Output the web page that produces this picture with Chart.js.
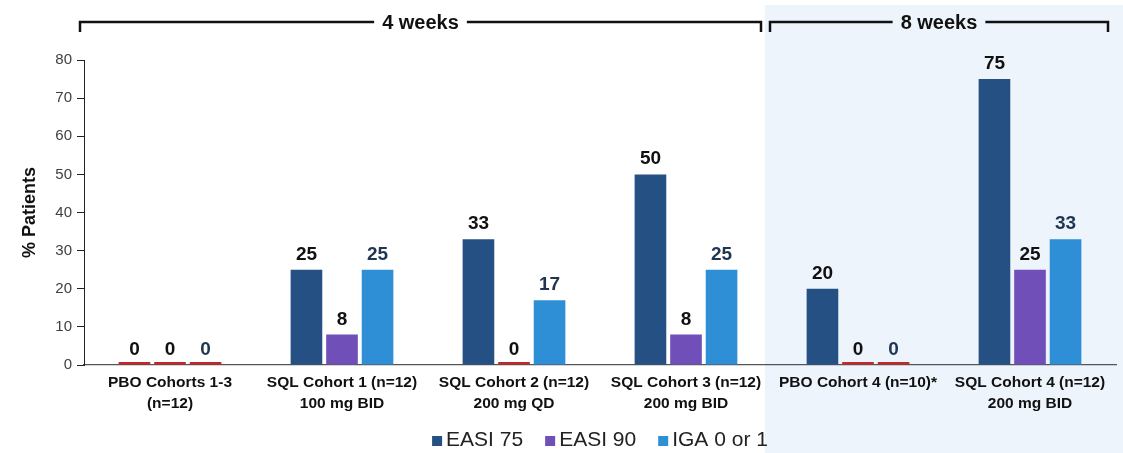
<!DOCTYPE html>
<html>
<head>
<meta charset="utf-8">
<script src="https://cdn.jsdelivr.net/npm/chart.js@4.4.1/dist/chart.umd.min.js"></script>
<style>
  html, body { margin: 0; padding: 0; background: #ffffff; }
  #wrap { width: 1123px; height: 453px; position: relative; }
</style>
</head>
<body>
<div id="wrap"><canvas id="c" width="1123" height="453"></canvas></div>
<script>
// Cohort categories (two-line axis labels)
const categories = [
  ['PBO Cohorts 1-3', '(n=12)'],
  ['SQL Cohort 1 (n=12)', '100 mg BID'],
  ['SQL Cohort 2 (n=12)', '200 mg QD'],
  ['SQL Cohort 3 (n=12)', '200 mg BID'],
  ['PBO Cohort 4 (n=10)*', ''],
  ['SQL Cohort 4 (n=12)', '200 mg BID']
];

// % of patients reaching each endpoint
const easi75 = [0, 25, 33, 50, 20, 75];
const easi90 = [0, 8, 0, 8, 0, 25];
const iga01  = [0, 25, 17, 25, 0, 33];

const seriesNames = ['EASI 75', 'EASI 90', 'IGA 0 or 1'];
const yTicks = [0, 10, 20, 30, 40, 50, 60, 70, 80];

// Treatment-period groupings drawn above the plot
const periods = [
  { label: '4 weeks', from: 0, to: 3 },
  { label: '8 weeks', from: 4, to: 5 }
];

const COL_75 = '#245084';
const COL_90 = '#7050b8';
const COL_IGA = '#2f8fd6';
const COL_ZERO = '#c0282d';
const FONT = "'Liberation Sans', Arial, sans-serif";

// Zero results are shown as a thin red stub
const barColors = (vals, col) => vals.map(v => v === 0 ? COL_ZERO : col);

// Light panel behind the 8-week cohorts
const periodShade = {
  id: 'periodShade',
  beforeDraw(chart) {
    const { ctx, scales: { x } } = chart;
    const split = (x.getPixelForValue(3) + x.getPixelForValue(4)) / 2 - 7;
    ctx.save();
    ctx.fillStyle = '#edf4fb';
    ctx.fillRect(split, 5, chart.width - split, chart.height - 5);
    ctx.restore();
  }
};

// Brackets with period titles
const periodBrackets = {
  id: 'periodBrackets',
  afterDraw(chart) {
    const { ctx, chartArea, scales: { x } } = chart;
    const y = 22, drop = 10;
    ctx.save();
    ctx.font = 'bold 20px ' + FONT;
    ctx.textAlign = 'center';
    ctx.textBaseline = 'middle';
    ctx.strokeStyle = '#111';
    ctx.fillStyle = '#111';
    ctx.lineWidth = 2.5;
    const mid = (x.getPixelForValue(3) + x.getPixelForValue(4)) / 2;
    periods.forEach((p, i) => {
      const x0 = i === 0 ? chartArea.left - 4 : mid - 2;
      const x1 = i === 0 ? mid - 11 : chartArea.right - 8;
      const cx = (x0 + x1) / 2;
      const tw = ctx.measureText(p.label).width;
      ctx.beginPath();
      ctx.moveTo(x0, y + drop);
      ctx.lineTo(x0, y);
      ctx.lineTo(cx - tw / 2 - 8, y);
      ctx.moveTo(cx + tw / 2 + 8, y);
      ctx.lineTo(x1, y);
      ctx.lineTo(x1, y + drop);
      ctx.stroke();
      ctx.fillText(p.label, cx, y + 1);
    });
    ctx.restore();
  }
};

// Value labels above each bar
const valueLabels = {
  id: 'valueLabels',
  afterDatasetsDraw(chart) {
    const { ctx, scales: { y } } = chart;
    ctx.save();
    ctx.font = 'bold 19px ' + FONT;
    ctx.textAlign = 'center';
    ctx.textBaseline = 'alphabetic';
    chart.data.datasets.forEach((ds, di) => {
      const meta = chart.getDatasetMeta(di);
      ctx.fillStyle = di === 2 ? '#1f3550' : '#111111';
      meta.data.forEach((bar, i) => {
        const v = ds.data[i];
        ctx.fillText(String(v), bar.x, y.getPixelForValue(v) - 10);
      });
    });
    ctx.restore();
  }
};

// Series key below the axis labels
const seriesKey = {
  id: 'seriesKey',
  afterDraw(chart) {
    const { ctx, chartArea } = chart;
    const cols = [COL_75, COL_90, COL_IGA];
    const box = 10, boxGap = 4, itemGap = 22, cy = 440;
    ctx.save();
    ctx.font = '21px ' + FONT;
    ctx.textBaseline = 'middle';
    ctx.textAlign = 'left';
    const items = chart.data.datasets.map((ds, i) => ({
      text: ds.label, color: cols[i], w: box + boxGap + ctx.measureText(ds.label).width
    }));
    const total = items.reduce((s, it) => s + it.w, 0) + itemGap * (items.length - 1);
    let x = (chartArea.left + chartArea.right) / 2 - total / 2;
    items.forEach(it => {
      ctx.fillStyle = it.color;
      ctx.fillRect(x, cy - box / 2 + 1, box, box);
      ctx.fillStyle = '#222';
      ctx.fillText(it.text, x + box + boxGap, cy);
      x += it.w + itemGap;
    });
    ctx.restore();
  }
};

new Chart(document.getElementById('c'), {
  type: 'bar',
  data: {
    labels: categories,
    datasets: [
      { label: seriesNames[0], data: easi75, backgroundColor: barColors(easi75, COL_75) },
      { label: seriesNames[1], data: easi90, backgroundColor: barColors(easi90, COL_90) },
      { label: seriesNames[2], data: iga01,  backgroundColor: barColors(iga01, COL_IGA) }
    ]
  },
  plugins: [periodShade, valueLabels, periodBrackets, seriesKey],
  options: {
    responsive: false,
    animation: false,
    devicePixelRatio: 1,
    layout: { padding: { top: 60, right: 7, bottom: 28, left: 0 } },
    datasets: {
      bar: { categoryPercentage: 0.62, barPercentage: 0.89, minBarLength: 3 }
    },
    scales: {
      x: {
        grid: { display: false, drawTicks: false },
        border: { display: true, color: '#555', width: 1.2 },
        ticks: {
          color: '#111',
          font: { family: FONT, size: 15.5, weight: 'bold', lineHeight: 1.3 },
          padding: 8,
          maxRotation: 0,
          autoSkip: false
        },
        afterFit(s) { s.height = 60; }
      },
      y: {
        min: 0,
        max: 80,
        afterBuildTicks(s) { s.ticks = yTicks.map(v => ({ value: v })); },
        grid: { drawOnChartArea: false, drawTicks: true, tickLength: 7, color: '#222', lineWidth: 1 },
        border: { display: true, color: '#222', width: 1 },
        ticks: {
          color: '#404040',
          font: { family: FONT, size: 15 },
          padding: 5
        },
        title: {
          display: true,
          text: '% Patients',
          color: '#111',
          font: { family: FONT, size: 18, weight: 'bold' },
          padding: { top: 19, bottom: 0 }
        },
        afterFit(s) { s.width = 84; }
      }
    },
    plugins: {
      legend: { display: false },
      tooltip: { enabled: false }
    }
  }
});
</script>
</body>
</html>
